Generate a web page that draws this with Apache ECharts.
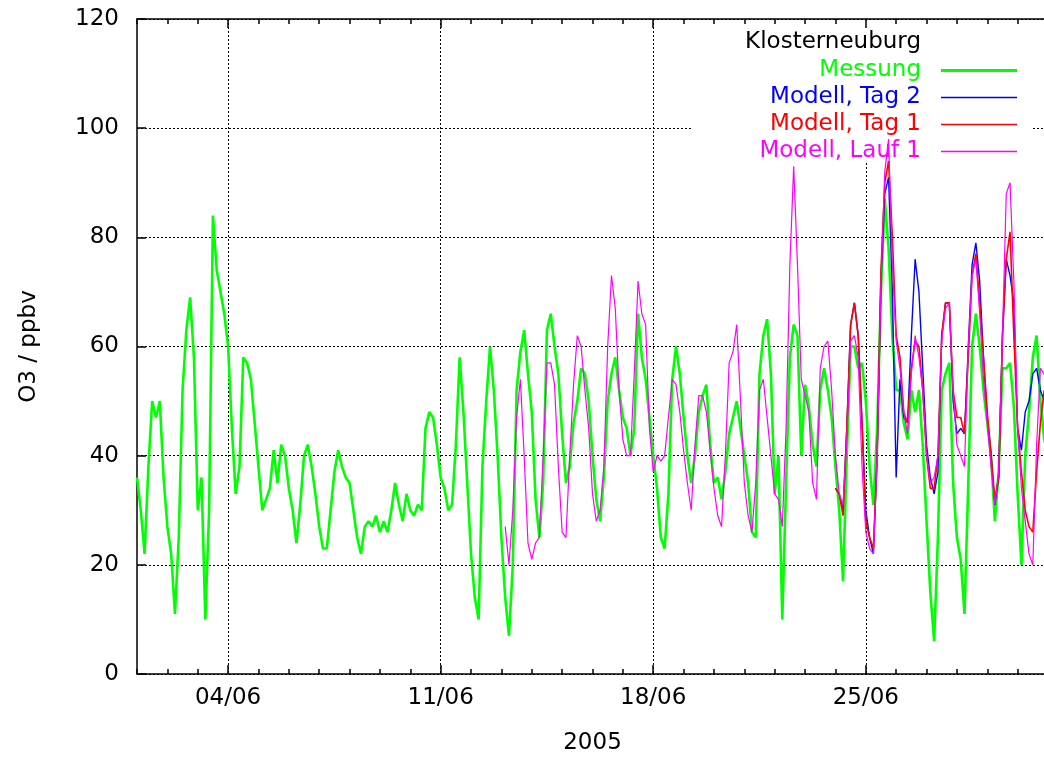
<!DOCTYPE html>
<html>
<head>
<meta charset="utf-8">
<script src="https://cdn.jsdelivr.net/npm/echarts@6/dist/echarts.min.js"></script>
<style>
html,body{margin:0;padding:0;background:#fff;}
#chart{width:1044px;height:758px;}
</style>
</head>
<body>
<div id="chart"></div>
<script>
// Time step: 3 hours (8 samples per day); x = day of month (1.0 = 01/06 00:00)
var stepsPerDay = 8;
var tickDays = [4, 11, 18, 25];
var tickLabels = ['04/06', '11/06', '18/06', '25/06'];
var yTicks = [0, 20, 40, 60, 80, 100, 120];

var messungStart = 0;
var messung = [36,30,22,38,50,47,50,36,27,22,11,25,52,63,69,58,30,36,10,30,
84,74,70,66,60,45,33,38,58,57,54,46,38,30,32,34,41,35,42,40,
34,30,24,31,40,42,38,33,27,23,23,30,37,41,38,36,35,30,25,22,
27,28,27,29,26,28,26,30,35,31,28,33,30,29,31,30,45,48,47,42,
36,34,30,31,42,58,48,35,22,14,10,38,50,60,52,40,25,14,7,20,
52,59,63,55,48,32,25,35,63,66,60,55,44,35,38,46,50,56,55,50,
40,32,28,36,50,55,58,52,47,45,40,45,66,58,54,47,40,34,25,23,
33,54,60,55,47,40,35,40,48,51,53,42,35,36,32,37,44,47,50,45,
40,35,26,25,55,62,65,55,33,40,10,35,58,64,62,40,53,49,42,38,
52,56,52,47,38,30,17,40,60,60,56,57,50,38,31,45,70,87,78,62,
52,52,46,43,52,48,52,42,28,15,6,25,52,55,57,35,25,21,11,35,
60,66,60,52,46,40,28,37,56,56,57,49,33,20,40,48,58,62,50,43,40];

var tag2Start = 184;
var tag2 = [34,33,30,45,64,68,62,46,30,25,22,40,72,88,91,70,36,54,47,46,
62,76,70,56,42,36,33,37,62,68,68,50,44,45,44,60,75,79,72,58,
47,40,31,36,62,76,73,68,45,41,48,50,55,56,52,50,48];

var tag1Start = 184;
var tag1 = [34,33,29,45,64,68,62,46,28,25,23,40,74,90,94,80,62,58,48,46,
56,61,60,52,40,34,34,40,62,68,68,52,47,47,44,58,73,77,68,58,
48,40,32,36,62,76,81,62,45,37,30,27,26,37,46,52,50];

var lauf1Start = 97;
var lauf1 = [27,20,30,47,54,40,24,21,24,25,40,57,57,53,38,26,25,40,53,62,
60,52,45,33,28,30,38,60,73,67,52,43,40,40,55,72,66,64,45,37,
40,39,40,47,54,53,48,41,35,30,42,51,51,48,41,34,29,27,40,57,
59,64,50,35,29,26,35,52,54,47,40,33,32,27,45,75,93,75,54,51,
48,35,32,56,60,61,52,40,33,31,43,61,62,58,38,26,23,22,40,72,
92,98,75,61,56,48,44,55,62,58,52,40,35,36,40,61,67,68,52,42,
40,38,60,73,76,66,54,46,38,31,37,62,88,90,72,45,34,28,22,20,
42,56,55,52];

function toXY(arr, start) {
  return arr.map(function (v, i) { return [1 + (start + i) / stepsPerDay, v]; });
}

var FONT = 'DejaVu Sans';
var FS = 23;
var dotted = { color: '#000', width: 1, type: [2, 2] };
var thickIcon = 'path://M0,0H76V3H0Z';
var thinIcon = 'path://M0,0H76V1.3H0Z';

var chart = echarts.init(document.getElementById('chart'), null, { renderer: 'canvas' });
var option = {
  animation: false,
  backgroundColor: '#fff',
  textStyle: { fontFamily: FONT },
  grid: { left: 137, right: -4, top: 19, bottom: 84, containLabel: false, outerBoundsMode: 'none' },
  title: {
    text: 'Klosterneuburg', right: 123, top: 31, padding: 0,
    textStyle: { fontFamily: FONT, fontSize: FS, fontWeight: 'normal', color: '#000' }
  },
  legend: {
    orient: 'vertical', align: 'right', right: 27, top: 59, padding: 0,
    itemWidth: 76, itemHeight: 14, itemGap: 4, symbolKeepAspect: true,
    textStyle: { fontFamily: FONT, fontSize: FS, padding: [0, 15, 0, 0] },
    data: [
      { name: 'Messung', icon: thickIcon, textStyle: { color: '#00ff00' } },
      { name: 'Modell, Tag 2', icon: thinIcon, textStyle: { color: '#0000ff' } },
      { name: 'Modell, Tag 1', icon: thinIcon, textStyle: { color: '#ff0000' } },
      { name: 'Modell, Lauf 1', icon: thinIcon, textStyle: { color: '#ff00ff' } }
    ]
  },
  graphic: [{
    type: 'rect', z: 1, silent: true,
    shape: { x: 693, y: 21, width: 338, height: 142 },
    style: { fill: '#fff' }
  }],
  xAxis: [
    { // data axis with weekly major ticks, labels and grid lines
      type: 'value', position: 'bottom', min: 1, max: 31, z: 0,
      axisLine: { show: true, onZero: false, lineStyle: { color: '#000', width: 1.5 } },
      axisTick: { show: true, inside: true, length: 9, customValues: tickDays,
        lineStyle: { color: '#000', width: 1.5 } },
      axisLabel: {
        margin: 13, color: '#000', fontFamily: FONT, fontSize: FS,
        customValues: tickDays,
        formatter: function (v) {
          var i = tickDays.indexOf(Math.round(v));
          return i >= 0 ? tickLabels[i] : '';
        }
      },
      splitLine: { show: true, lineStyle: dotted },
      name: '2005', nameLocation: 'middle', nameGap: 58,
      nameTextStyle: { fontFamily: FONT, fontSize: FS, color: '#000' }
    },
    { // daily minor ticks
      type: 'value', position: 'bottom', min: 1, max: 31, interval: 1, z: 0,
      axisLine: { show: false, onZero: false },
      axisTick: { show: true, inside: true, length: 5, lineStyle: { color: '#000', width: 1.5 } },
      axisLabel: { show: false },
      splitLine: { show: false }
    },
    { // top border, minor ticks
      type: 'value', position: 'top', min: 1, max: 31, interval: 1, z: 3,
      axisLine: { show: true, onZero: false, lineStyle: { color: '#000', width: 1.5 } },
      axisTick: { show: true, inside: true, length: 5, lineStyle: { color: '#000', width: 1.5 } },
      axisLabel: { show: false },
      splitLine: { show: false }
    },
    { // top border, major ticks
      type: 'value', position: 'top', min: 1, max: 31, z: 3,
      axisLine: { show: false, onZero: false },
      axisTick: { show: true, inside: true, length: 9, customValues: tickDays,
        lineStyle: { color: '#000', width: 1.5 } },
      axisLabel: { show: false },
      splitLine: { show: false }
    }
  ],
  yAxis: [{
    type: 'value', position: 'left', min: yTicks[0], max: yTicks[yTicks.length - 1], interval: 20, z: 0,
    axisLine: { show: true, onZero: false, lineStyle: { color: '#000', width: 1.5 } },
    axisTick: { show: true, inside: true, length: 9, lineStyle: { color: '#000', width: 1.5 } },
    axisLabel: { margin: 18, color: '#000', fontFamily: FONT, fontSize: FS },
    splitLine: { show: true, lineStyle: dotted },
    name: 'O3 / ppbv', nameLocation: 'middle', nameRotate: 90, nameGap: 96,
    nameTextStyle: { fontFamily: FONT, fontSize: FS, color: '#000' }
  }],
  series: [
    { name: 'Messung', type: 'line', xAxisIndex: 0, symbol: 'none', z: 4,
      data: toXY(messung, messungStart), color: '#00ff00',
      lineStyle: { color: '#00ff00', width: 2.6 } },
    { name: 'Modell, Tag 2', type: 'line', xAxisIndex: 0, symbol: 'none', z: 5,
      data: toXY(tag2, tag2Start), color: '#0000ff',
      lineStyle: { color: '#0000ff', width: 1.4 } },
    { name: 'Modell, Tag 1', type: 'line', xAxisIndex: 0, symbol: 'none', z: 6,
      data: toXY(tag1, tag1Start), color: '#ff0000',
      lineStyle: { color: '#ff0000', width: 1.6 } },
    { name: 'Modell, Lauf 1', type: 'line', xAxisIndex: 0, symbol: 'none', z: 7,
      data: toXY(lauf1, lauf1Start), color: '#ff00ff',
      lineStyle: { color: '#ff00ff', width: 1.2 } }
  ]
};
chart.setOption(option);
</script>
</body>
</html>
